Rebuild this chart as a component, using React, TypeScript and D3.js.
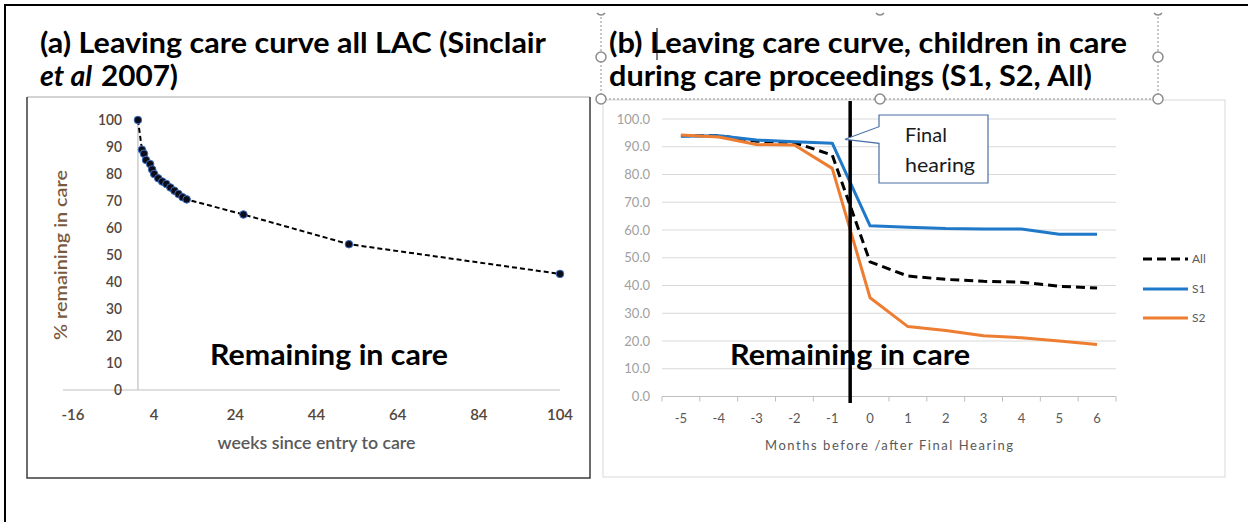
import React from "react";
import * as d3 from "d3";

// ---------- Data ----------
const leftWeeks = [0, 1, 1.5, 2, 3, 3.5, 4, 5, 6, 7, 8, 9, 10, 11, 12, 26, 52, 104];
const leftValues = [100, 89, 87.5, 85.2, 83.7, 81.7, 80, 78.4, 77.2, 76.3, 75, 73.8, 72.6, 71.4, 70.6, 65, 54, 43];
const leftXTicks = [-16, 4, 24, 44, 64, 84, 104];
const leftYTicks = [0, 10, 20, 30, 40, 50, 60, 70, 80, 90, 100];

const months = [-5, -4, -3, -2, -1, 0, 1, 2, 3, 4, 5, 6];
const seriesAll = [94, 94, 92, 91.5, 87, 48.5, 43.4, 42.2, 41.5, 41.2, 39.7, 39.1];
const seriesS1 = [93.8, 94, 92.4, 91.8, 91.3, 61.5, 61, 60.5, 60.4, 60.4, 58.5, 58.5];
const seriesS2 = [94.2, 93.5, 90.8, 90.6, 82.2, 35.6, 25.2, 23.8, 21.9, 21.2, 20, 18.7];
const rightYTicks = [0, 10, 20, 30, 40, 50, 60, 70, 80, 90, 100];
const seriesNames = ["All", "S1", "S2"];

const FONT = "Lato, 'Open Sans', sans-serif";
const BLUE = "#1f78c8";
const ORANGE = "#ed7d31";

export default function App() {
  // left chart scales
  const xL = d3.scaleLinear().domain([-16, 104]).range([73, 560]);
  const yL = d3.scaleLinear().domain([0, 100]).range([390, 120]);
  const leftPts = leftWeeks.map((w, i) => [w, leftValues[i]] as [number, number]);
  const leftLine = d3
    .line<[number, number]>()
    .x((d) => xL(d[0]))
    .y((d) => yL(d[1]));

  // right chart scales
  const xR = d3.scaleBand<string>().domain(months.map(String)).range([662, 1116]);
  const bw = xR.bandwidth();
  const cx = (m: number) => (xR(String(m)) as number) + bw / 2;
  const yR = d3.scaleLinear().domain([0, 100]).range([396.5, 119]);
  const rLine = d3
    .line<number>()
    .x((_, i) => cx(months[i]))
    .y((d) => yR(d));
  const finalX = ((xR("0") as number) + cx(-1) + bw / 2) / 2 - 1;

  const seriesData = [seriesAll, seriesS1, seriesS2];
  const seriesStyle = [
    { stroke: "#000", dash: "9 5", width: 3 },
    { stroke: BLUE, dash: "", width: 3 },
    { stroke: ORANGE, dash: "", width: 3 },
  ];
  const legendY = [259, 289, 318];

  const handles: [number, number][] = [
    [601, 57],
    [1158, 57],
    [601, 99],
    [880, 99],
    [1158, 99],
  ];

  return (
    <div style={{ position: "absolute", left: 0, top: 0 }}>
      <svg width={1248} height={522} style={{ display: "block", background: "#fff" }}>
        <rect x={0} y={0} width={1248} height={522} fill="#fff" />
        {/* outer frame */}
        <rect x={5} y={5} width={1400} height={700} fill="none" stroke="#000" strokeWidth={2} />

        {/* ---------- Titles ---------- */}
        <text x={40} y={53} fontFamily={FONT} fontWeight={700} fontSize={29} fill="#000" textLength={506} lengthAdjust="spacingAndGlyphs">
          (a) Leaving care curve all LAC (Sinclair
        </text>
        <text x={40} y={86} fontFamily={FONT} fontWeight={700} fontStyle="italic" fontSize={29} fill="#000" textLength={52} lengthAdjust="spacingAndGlyphs">
          et al
        </text>
        <text x={101} y={86} fontFamily={FONT} fontWeight={700} fontSize={29} fill="#000" textLength={77} lengthAdjust="spacingAndGlyphs">
          2007)
        </text>

        <text x={609} y={53} fontFamily={FONT} fontWeight={700} fontSize={29} fill="#000" textLength={518} lengthAdjust="spacingAndGlyphs">
          (b) Leaving care curve, children in care
        </text>
        <text x={609} y={86} fontFamily={FONT} fontWeight={700} fontSize={29} fill="#000" textLength={483} lengthAdjust="spacingAndGlyphs">
          during care proceedings (S1, S2, All)
        </text>
        {/* text cursor */}
        <line x1={657} x2={657} y1={28} y2={60} stroke="#000" strokeWidth={1} />

        {/* ---------- Left panel ---------- */}
        <line x1={27} x2={590} y1={97} y2={97} stroke="#a6a6a6" strokeWidth={1} />
        <path d="M27,97 V478 H590 V97" fill="none" stroke="#3c3c3c" strokeWidth={1.5} />

        {/* axes */}
        <line x1={xL(-16) - 10} x2={xL(104)} y1={yL(0)} y2={yL(0)} stroke="#bfbfbf" strokeWidth={1.2} />
        <line x1={xL(0)} x2={xL(0)} y1={yL(0)} y2={yL(100)} stroke="#bfbfbf" strokeWidth={1.2} />
        {leftYTicks.map((t) => (
          <text key={"ly" + t} x={122} y={yL(t)} dy="0.35em" textAnchor="end" fontFamily={FONT} fontWeight={600} fontSize={15} fill="#54463a" textLength={t === 100 ? 24 : t === 0 ? 8 : 16} lengthAdjust="spacingAndGlyphs">
            {t}
          </text>
        ))}
        {leftXTicks.map((t) => (
          <text key={"lx" + t} x={xL(t)} y={420} textAnchor="middle" fontFamily={FONT} fontWeight={600} fontSize={15} fill="#54463a">
            {t}
          </text>
        ))}
        <text x={(xL(-16) + xL(104)) / 2} y={449} textAnchor="middle" fontFamily={FONT} fontWeight={600} fontSize={17} fill="#595959" textLength={198} lengthAdjust="spacingAndGlyphs">
          weeks since entry to care
        </text>
        <text transform={`translate(67,255) rotate(-90)`} textAnchor="middle" fontFamily={FONT} fontWeight={600} fontSize={17} fill="#7a5a3c" textLength={170} lengthAdjust="spacingAndGlyphs">
          % remaining in care
        </text>

        <path d={leftLine(leftPts) || ""} fill="none" stroke="#000" strokeWidth={2} strokeDasharray="5 3" />
        {leftPts.map((p, i) => (
          <circle key={"pt" + i} cx={xL(p[0])} cy={yL(p[1])} r={3.8} fill="#0d0d1a" stroke="#3d6fc4" strokeWidth={1} />
        ))}
        <text x={329} y={365} textAnchor="middle" fontFamily={FONT} fontWeight={700} fontSize={28} fill="#000" textLength={238} lengthAdjust="spacingAndGlyphs">
          Remaining in care
        </text>

        {/* ---------- Right panel ---------- */}
        <rect x={603} y={100} width={622} height={377} fill="none" stroke="#d9d9d9" strokeWidth={1} />

        {rightYTicks.map((t) => (
          <g key={"ry" + t}>
            <line x1={662} x2={1116} y1={yR(t)} y2={yR(t)} stroke={t === 0 ? "#bfbfbf" : "#d9d9d9"} strokeWidth={1} />
            <text x={650} y={yR(t)} dy="0.35em" textAnchor="end" fontFamily={FONT} fontSize={13} fill="#a0a0a0">
              {t.toFixed(1)}
            </text>
          </g>
        ))}
        {months.map((m) => (
          <line key={"tk" + m} x1={xR(String(m)) as number} x2={xR(String(m)) as number} y1={yR(0)} y2={yR(0) + 5} stroke="#bfbfbf" />
        ))}
        <line x1={1116} x2={1116} y1={yR(0)} y2={yR(0) + 5} stroke="#bfbfbf" />
        {months.map((m) => (
          <text key={"rx" + m} x={cx(m)} y={423} textAnchor="middle" fontFamily={FONT} fontSize={13} fill="#595959">
            {m}
          </text>
        ))}
        <text x={(662 + 1116) / 2} y={450} textAnchor="middle" fontFamily={FONT} fontSize={13} fill="#595959" textLength={248} lengthAdjust="spacing">
          Months before /after Final Hearing
        </text>

        {seriesData.map((s, i) => (
          <path
            key={"s" + i}
            d={rLine(s) || ""}
            fill="none"
            stroke={seriesStyle[i].stroke}
            strokeWidth={seriesStyle[i].width}
            strokeDasharray={seriesStyle[i].dash || undefined}
            strokeLinejoin="round"
          />
        ))}

        {/* legend */}
        {seriesNames.map((n, i) => (
          <g key={"lg" + n}>
            <line x1={1143} x2={1188} y1={legendY[i]} y2={legendY[i]} stroke={seriesStyle[i].stroke} strokeWidth={3} strokeDasharray={seriesStyle[i].dash || undefined} />
            <text x={1192} y={legendY[i]} dy="0.35em" fontFamily={FONT} fontSize={12} fill="#595959">
              {n}
            </text>
          </g>
        ))}

        {/* final hearing line */}
        <line x1={finalX} x2={finalX} y1={101} y2={403} stroke="#000" strokeWidth={3.5} />

        {/* callout */}
        <path d="M879,115 H988 V183 H879 V143.3 L845,139.3 L879,126.7 Z" fill="#fff" stroke="#4a6fa5" strokeWidth={1.2} />
        <text x={905} y={141.5} fontFamily={FONT} fontSize={20} fill="#1a1a1a">
          Final
        </text>
        <text x={905} y={171.5} fontFamily={FONT} fontSize={20} fill="#1a1a1a" textLength={70} lengthAdjust="spacingAndGlyphs">
          hearing
        </text>

        <text x={850} y={365} textAnchor="middle" fontFamily={FONT} fontWeight={700} fontSize={28} fill="#000" textLength={240} lengthAdjust="spacingAndGlyphs">
          Remaining in care
        </text>

        {/* selection frame */}
        <g stroke="#8c8c8c" strokeWidth={1} fill="none">
          <line x1={601} x2={601} y1={17} y2={99} strokeDasharray="2 2" />
          <line x1={1158} x2={1158} y1={17} y2={99} strokeDasharray="2 2" />
          <line x1={601} x2={1158} y1={99} y2={99} strokeDasharray="2 2" />
          {[601, 880, 1158].map((x) => (
            <path key={"th" + x} d={`M${x - 4},13 A5,5 0 0,0 ${x + 4},13`} strokeWidth={1.5} />
          ))}
        </g>
        {handles.map((h, i) => (
          <circle key={"h" + i} cx={h[0]} cy={h[1]} r={5} fill="#fff" stroke="#8c8c8c" strokeWidth={1.5} />
        ))}
      </svg>
    </div>
  );
}
